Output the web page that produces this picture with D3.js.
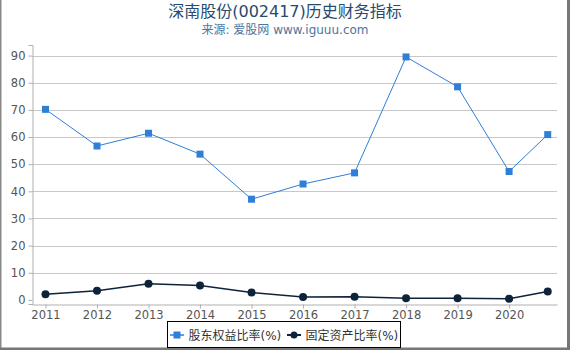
<!DOCTYPE html>
<html>
<head>
<meta charset="utf-8">
<script src="https://cdn.jsdelivr.net/npm/d3@7"></script>
<style>
  body { margin: 0; background: #fff; }
  svg text { font-family: "DejaVu Sans", "Noto Sans CJK SC", sans-serif; }
</style>
</head>
<body>
<svg id="chart" width="570" height="350"></svg>
<script>
// Chart data
const periods = [2011, 2012, 2013, 2014, 2015, 2016, 2017, 2018, 2019, 2020, 2020.75];
const equityRatio = [70.2, 56.7, 61.4, 53.7, 37.1, 42.7, 46.8, 89.5, 78.5, 47.3, 60.9];
const fixedAssetRatio = [2.1, 3.4, 6.0, 5.3, 2.7, 1.1, 1.2, 0.6, 0.6, 0.4, 3.1];
const xTicks = [2011, 2012, 2013, 2014, 2015, 2016, 2017, 2018, 2019, 2020];
const yTicks = [0, 10, 20, 30, 40, 50, 60, 70, 80, 90];
const seriesNames = ["股东权益比率(%)", "固定资产比率(%)"];

const palette = { equity: "#2f7ed8", fixed: "#0d233a", grid: "#c8c8c8", axis: "#b0b0b0", label: "#555" };

const W = 570, H = 350;
const plot = { left: 32, right: 557, top: 45, bottom: 304 };

const svg = d3.select("#chart");

const x = d3.scaleLinear()
  .domain([2010.738, 2020.93])
  .range([plot.left, plot.right]);

const y = d3.scaleLinear()
  .domain([-1.5, 93.9])
  .range([plot.bottom, plot.top]);

// frame
svg.append("line").attr("x1", 0.75).attr("x2", 0.75).attr("y1", 0).attr("y2", H)
  .attr("stroke", "#888").attr("stroke-width", 1.5);
svg.append("line").attr("x1", 568.5).attr("x2", 568.5).attr("y1", 0).attr("y2", H)
  .attr("stroke", "#777").attr("stroke-width", 3);
svg.append("line").attr("x1", 0).attr("x2", W).attr("y1", 349).attr("y2", 349)
  .attr("stroke", "#777").attr("stroke-width", 3);

// titles
svg.append("text")
  .attr("x", 285).attr("y", 17)
  .attr("text-anchor", "middle")
  .attr("fill", "#274b6d")
  .style("font-size", "16px")
  .text("深南股份(002417)历史财务指标");

svg.append("text")
  .attr("x", 285).attr("y", 34)
  .attr("text-anchor", "middle")
  .attr("fill", "#4d759e")
  .style("font-size", "12px")
  .text("来源: 爱股网 www.iguuu.com");

// grid
svg.append("g")
  .selectAll("line")
  .data(yTicks.filter(d => d > 0))
  .join("line")
    .attr("x1", plot.left).attr("x2", plot.right)
    .attr("y1", d => Math.round(y(d)) + 0.5).attr("y2", d => Math.round(y(d)) + 0.5)
    .attr("stroke", palette.grid);

// y axis
const yAxis = svg.append("g")
  .attr("transform", `translate(${plot.left + 0.5},0)`)
  .call(d3.axisLeft(y).tickValues(yTicks).tickSize(4).tickPadding(3));
yAxis.select(".domain").attr("stroke", palette.axis);
yAxis.selectAll(".tick line").attr("stroke", palette.axis);
yAxis.selectAll("text").attr("fill", palette.label).style("font-size", "11.5px");

// x axis
const xAxis = svg.append("g")
  .attr("transform", `translate(0,${plot.bottom + 0.5})`)
  .call(d3.axisBottom(x).tickValues(xTicks).tickFormat(d3.format("d")).tickSize(4).tickSizeOuter(0).tickPadding(2));
xAxis.select(".domain").attr("stroke", palette.axis);
xAxis.selectAll(".tick line").attr("stroke", palette.axis);
xAxis.selectAll("text").attr("fill", palette.label).style("font-size", "11.5px");

// series
const equityData = periods.map((p, i) => ({ p, v: equityRatio[i] }));
const fixedData = periods.map((p, i) => ({ p, v: fixedAssetRatio[i] }));

const line = d3.line().x(d => x(d.p)).y(d => y(d.v));

svg.append("path")
  .datum(fixedData)
  .attr("fill", "none")
  .attr("stroke", palette.fixed)
  .attr("stroke-width", 1.5)
  .attr("d", line);

svg.selectAll(".dot-fixed")
  .data(fixedData)
  .join("circle")
    .attr("class", "dot-fixed")
    .attr("cx", d => x(d.p))
    .attr("cy", d => y(d.v))
    .attr("r", 4)
    .attr("fill", palette.fixed);

svg.append("path")
  .datum(equityData)
  .attr("fill", "none")
  .attr("stroke", palette.equity)
  .attr("stroke-width", 1)
  .attr("d", line);

svg.selectAll(".dot-equity")
  .data(equityData)
  .join("rect")
    .attr("class", "dot-equity")
    .attr("x", d => x(d.p) - 3.5)
    .attr("y", d => y(d.v) - 3.5)
    .attr("width", 7)
    .attr("height", 7)
    .attr("fill", palette.equity);

// legend
const legend = svg.append("g");
legend.append("rect")
  .attr("x", 167.5).attr("y", 321.5)
  .attr("width", 233).attr("height", 26)
  .attr("fill", "#fff").attr("stroke", "#000");

const legendItems = [
  { name: seriesNames[0], color: palette.equity, shape: "square", x: 170 },
  { name: seriesNames[1], color: palette.fixed, shape: "circle", x: 287 }
];
legendItems.forEach(it => {
  const ly = 335;
  legend.append("line")
    .attr("x1", it.x).attr("x2", it.x + 14)
    .attr("y1", ly).attr("y2", ly)
    .attr("stroke", it.color).attr("stroke-width", it.shape === "square" ? 1.5 : 2);
  if (it.shape === "square") {
    legend.append("rect")
      .attr("x", it.x + 3.5).attr("y", ly - 3.5)
      .attr("width", 7).attr("height", 7)
      .attr("fill", it.color);
  } else {
    legend.append("circle")
      .attr("cx", it.x + 7).attr("cy", ly).attr("r", 3.5)
      .attr("fill", it.color);
  }
  legend.append("text")
    .attr("x", it.x + 18.5).attr("y", ly + 4.5)
    .attr("fill", "#333")
    .style("font-size", "12px")
    .text(it.name);
});
</script>
</body>
</html>
